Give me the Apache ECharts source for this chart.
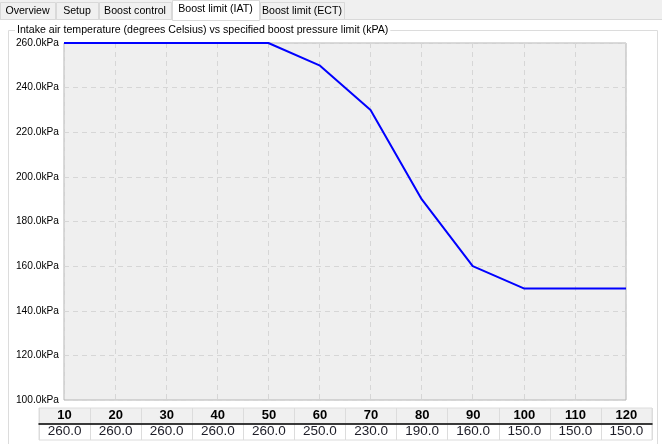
<!DOCTYPE html>
<html>
<head>
<meta charset="utf-8">
<script src="https://cdn.jsdelivr.net/npm/echarts@6/dist/echarts.min.js"></script>
<style>
html,body{margin:0;padding:0;background:#fff;}
#c{width:662px;height:444px;}
</style>
</head>
<body>
<div id="c"></div>
<script>
const temps = [10, 20, 30, 40, 50, 60, 70, 80, 90, 100, 110, 120];
const boostLimit = [260, 260, 260, 260, 260, 250, 230, 190, 160, 150, 150, 150];
const tabNames = ['Overview', 'Setup', 'Boost control', 'Boost limit (IAT)', 'Boost limit (ECT)'];
const chartTitle = 'Intake air temperature (degrees Celsius) vs specified boost pressure limit (kPA)';

const FONT = 'Liberation Sans, Arial, sans-serif';
const tabX = [0, 56, 99, 172, 260, 345];
const selectedTab = 3;

const graphics = [];
// tab strip background
graphics.push({type:'rect', shape:{x:0,y:0,width:662,height:20}, style:{fill:'#f0f0f0'}, z:0});
graphics.push({type:'line', shape:{x1:0,y1:19.5,x2:662,y2:19.5}, style:{stroke:'#d9d9d9',lineWidth:1}, z:1});
tabNames.forEach((name, i) => {
  const sel = i === selectedTab;
  const x0 = tabX[i], x1 = tabX[i+1] - 1;
  graphics.push({type:'rect', shape:{x:x0+0.5, y:sel?0.5:2.5, width:x1-x0, height:sel?20:17},
    style:{fill: sel ? '#ffffff' : '#f0f0f0', stroke:'#d9d9d9', lineWidth:1}, z: sel?3:2});
  graphics.push({type:'text', x:(x0+x1)/2, y: sel?9.5:11,
    style:{text:name, fill:'#000', font:'10.6px ' + FONT, textAlign:'center', textVerticalAlign:'middle'}, z:4});
});
// group box
graphics.push({type:'rect', shape:{x:8.5,y:30.5,width:649,height:430}, style:{fill:'none',stroke:'#dcdcdc',lineWidth:1}, z:1});
graphics.push({type:'text', x:15, y:30.5,
  style:{text:chartTitle, fill:'#000', font:'10.6px ' + FONT, textVerticalAlign:'middle',
    backgroundColor:'#fff', padding:[1,2,1,2]}, z:2});

const chart = echarts.init(document.getElementById('c'), null, {renderer:'canvas'});
chart.setOption({
  animation:false,
  backgroundColor:'#ffffff',
  graphic: graphics,
  grid:[
    {left:64, right:36, top:43, bottom:44, show:true, backgroundColor:'#efefef', borderColor:'#b4b4b4', borderWidth:1},
    {left:39, right:10, top:408, height:16, show:true, backgroundColor:'#f0f0f0', borderColor:'#dcdcdc', borderWidth:1},
    {left:39, right:10, top:424, height:16, show:true, backgroundColor:'#ffffff', borderColor:'#dcdcdc', borderWidth:1}
  ],
  xAxis:[
    {type:'value', gridIndex:0, min:10, max:120, interval:10,
      axisLine:{show:false}, axisTick:{show:false}, axisLabel:{show:false},
      splitLine:{show:true, lineStyle:{color:'#d6d6d6', type:[5,4], width:1}}},
    {type:'category', gridIndex:1, data:temps.map(String), position:'bottom', boundaryGap:true,
      axisLine:{show:true, lineStyle:{color:'#000', width:1.5}}, axisTick:{show:false},
      axisLabel:{inside:true, margin:2, verticalAlign:'bottom', color:'#000', fontWeight:'bold', fontSize:13, fontFamily:FONT, interval:0},
      splitLine:{show:true, lineStyle:{color:'#dcdcdc', width:1}}},
    {type:'category', gridIndex:2, data:boostLimit.map(v => v.toFixed(1)), position:'bottom', boundaryGap:true,
      axisLine:{show:false}, axisTick:{show:false},
      axisLabel:{inside:true, margin:2, verticalAlign:'bottom', color:'#1e1e28', fontSize:13.5, fontFamily:FONT, interval:0},
      splitLine:{show:true, lineStyle:{color:'#dcdcdc', width:1}}}
  ],
  yAxis:[
    {type:'value', gridIndex:0, min:100, max:260, interval:20,
      axisLine:{show:false}, axisTick:{show:false},
      axisLabel:{color:'#000', fontSize:10.2, fontFamily:FONT, margin:5, formatter: v => v.toFixed(1) + 'kPa'},
      splitLine:{show:true, lineStyle:{color:'#d6d6d6', type:[5,4], width:1}}},
    {type:'value', gridIndex:1, show:false},
    {type:'value', gridIndex:2, show:false}
  ],
  series:[
    {type:'line', xAxisIndex:0, yAxisIndex:0, data: temps.map((t,i) => [t, boostLimit[i]]),
      showSymbol:false, symbol:'none', lineStyle:{color:'#0000ff', width:2}, z:5, clip:false}
  ]
});
</script>
</body>
</html>
